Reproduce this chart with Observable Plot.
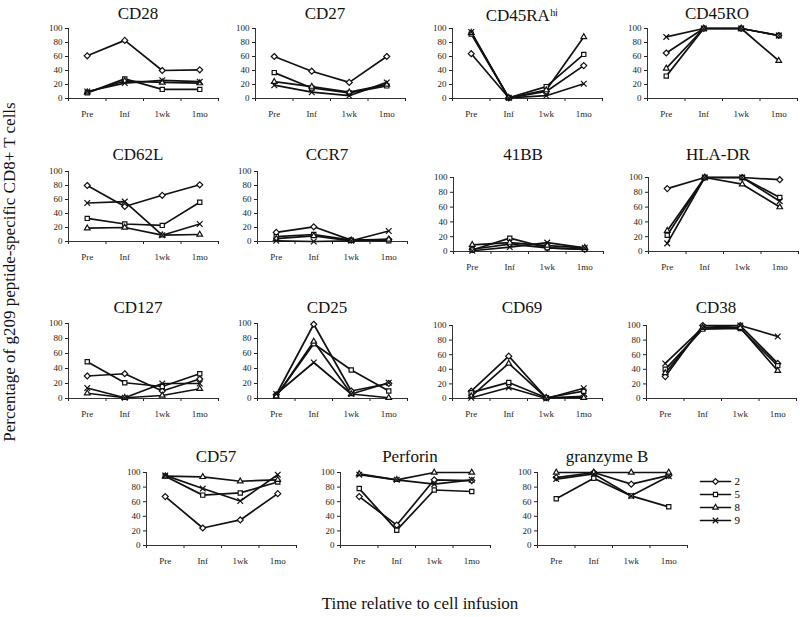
<!DOCTYPE html>
<html>
<head>
<meta charset="utf-8">
<script src="https://cdn.jsdelivr.net/npm/d3@7"></script>
<script src="https://cdn.jsdelivr.net/npm/@observablehq/plot@0.6"></script>
<style>
  html, body { margin: 0; padding: 0; background: #fff; }
  #root { position: relative; width: 800px; height: 617px; overflow: hidden; font-family: "Liberation Serif", serif; }
  .ttl { position: absolute; font-size: 17px; transform: translate(-50%, -50%); white-space: nowrap; color: #111; }
  .axt { position: absolute; font-size: 17px; white-space: nowrap; color: #111; transform: translate(-50%, -50%); }
</style>
</head>
<body>
<div id="root"></div>
<script>
// ---- data ----
const categories = ["Pre", "Inf", "1wk", "1mo"];
const patients = ["2", "5", "8", "9"];
const yTicks = [0, 20, 40, 60, 80, 100];

// each array: rows = patients 2, 5, 8, 9 ; columns = Pre, Inf, 1wk, 1mo
const CD28     = [[61, 83, 40, 41], [8, 28, 13, 13], [9, 25, 23, 22], [10, 22, 26, 24]];
const CD27     = [[60, 39, 23, 60], [37, 15, 8, 18], [24, 17, 9, 20], [19, 9, 4, 23]];
const CD45RAhi = [[64, 1, 10, 47], [92, 1, 17, 63], [94, 1, 12, 88], [95, 1, 4, 21]];
const CD45RO   = [[65, 100, 100, 90], [32, 100, 100, 90], [43, 100, 100, 54], [88, 100, 100, 90]];
const CD62L    = [[80, 50, 66, 81], [33, 25, 23, 56], [19, 20, 9, 10], [55, 57, 9, 25]];
const CCR7     = [[13, 21, 2, 3], [7, 10, 2, 1], [4, 8, 1, 3], [1, 0, 1, 15]];
const B41BB    = [[3, 10, 5, 3], [2, 18, 5, 3], [9, 12, 8, 5], [1, 6, 12, 5]];
const HLADR    = [[85, 100, 100, 97], [22, 100, 100, 73], [28, 100, 91, 60], [11, 100, 100, 68]];
const CD127    = [[30, 33, 10, 26], [49, 21, 16, 33], [7, 1, 4, 13], [14, 1, 20, 20]];
const CD25     = [[5, 99, 10, 20], [3, 73, 38, 10], [3, 76, 6, 1], [6, 48, 6, 21]];
const CD69     = [[10, 58, 1, 3], [8, 22, 1, 10], [3, 48, 1, 1], [1, 15, 0, 14]];
const CD38     = [[30, 100, 100, 48], [40, 95, 96, 45], [35, 97, 97, 38], [48, 97, 100, 85]];
const CD57     = [[67, 24, 35, 71], [95, 69, 72, 87], [95, 94, 88, 90], [96, 78, 61, 97]];
const Perforin = [[67, 28, 90, 89], [78, 21, 76, 74], [98, 90, 100, 100], [97, 90, 84, 90]];
const GranzymeB= [[93, 100, 84, 96], [64, 92, 68, 53], [100, 100, 100, 100], [91, 98, 68, 95]];

// ---- layout (positions only) ----
const panels = [
  {name: "CD28",      values: CD28,      ax: 68,  top: 28,  w: 150, h: 70, ty: 14},
  {name: "CD27",      values: CD27,      ax: 255, top: 28,  w: 150, h: 70, ty: 14},
  {name: "CD45RAʰⁱ",  values: CD45RAhi,  ax: 452, top: 28,  w: 150, h: 70, ty: 14},
  {name: "CD45RO",    values: CD45RO,    ax: 647, top: 28,  w: 150, h: 70, ty: 14},
  {name: "CD62L",     values: CD62L,     ax: 68,  top: 171, w: 150, h: 70, ty: 155},
  {name: "CCR7",      values: CCR7,      ax: 257, top: 171, w: 150, h: 70, ty: 155},
  {name: "41BB",      values: B41BB,     ax: 453, top: 177, w: 150, h: 74, ty: 155},
  {name: "HLA-DR",    values: HLADR,     ax: 648, top: 177, w: 150, h: 74, ty: 155},
  {name: "CD127",     values: CD127,     ax: 68,  top: 323, w: 150, h: 75, ty: 308},
  {name: "CD25",      values: CD25,      ax: 257, top: 323, w: 150, h: 75, ty: 308},
  {name: "CD69",      values: CD69,      ax: 452, top: 325, w: 150, h: 73, ty: 308},
  {name: "CD38",      values: CD38,      ax: 646, top: 325, w: 150, h: 73, ty: 308},
  {name: "CD57",      values: CD57,      ax: 146, top: 472, w: 150, h: 73, ty: 457},
  {name: "Perforin",  values: Perforin,  ax: 340, top: 472, w: 150, h: 73, ty: 457},
  {name: "granzyme B",values: GranzymeB, ax: 537, top: 472, w: 150, h: 73, ty: 457}
];

const root = document.getElementById("root");
const symbolRange = ["diamond2", "square2", "triangle2", "times"];

function drawPanel(cfg) {
  const rows = [];
  patients.forEach((p, si) => cfg.values[si].forEach((v, ci) => rows.push({patient: p, t: ci, v})));
  const mL = 34, mT = 6, mB = 26, mR = 6;
  const svg = Plot.plot({
    width: cfg.w + mL + mR,
    height: cfg.h + mT + mB,
    marginLeft: mL, marginRight: mR, marginTop: mT, marginBottom: mB,
    x: {domain: [-0.5, 3.5], axis: null},
    y: {domain: [0, 100], axis: null},
    symbol: {domain: patients, range: symbolRange},
    style: {fontFamily: "Liberation Serif, serif", fontSize: "9px", background: "transparent", overflow: "visible", color: "#222"},
    marks: [
      Plot.axisY({ticks: yTicks, tickSize: 3, tickPadding: 3, fontSize: 9, label: null}),
      Plot.axisX({ticks: [-0.5, 0.5, 1.5, 2.5, 3.5], tickSize: 3, tickFormat: () => "", label: null}),
      Plot.axisX({ticks: [0, 1, 2, 3], tickSize: 0, tickPadding: 12, tickFormat: i => categories[i], fontSize: 9, label: null}),
      Plot.ruleX([-0.5], {stroke: "#333", strokeWidth: 1}),
      Plot.ruleY([0], {stroke: "#333", strokeWidth: 1}),
      Plot.line(rows, {x: "t", y: "v", z: "patient", stroke: "#111", strokeWidth: 1.7}),
      Plot.dot(rows, {x: "t", y: "v", symbol: "patient", r: 2.7, fill: "white", stroke: "#111", strokeWidth: 1.2})
    ]
  });
  svg.style.position = "absolute";
  svg.style.left = (cfg.ax - mL) + "px";
  svg.style.top = (cfg.top - mT) + "px";
  root.appendChild(svg);
  const t = document.createElement("div");
  t.className = "ttl";
  t.textContent = cfg.name;
  t.style.left = (cfg.ax + 70) + "px";
  t.style.top = cfg.ty + "px";
  root.appendChild(t);
}
panels.forEach(drawPanel);

// legend
const legRows = [];
patients.forEach(p => [0, 1].forEach(x => legRows.push({patient: p, x})));
const leg = Plot.plot({
  width: 50, height: 69,
  marginLeft: 2, marginRight: 18, marginTop: 8, marginBottom: 8,
  x: {domain: [0, 1], axis: null},
  y: {type: "point", domain: patients, axis: null},
  symbol: {domain: patients, range: symbolRange},
  style: {fontFamily: "Liberation Serif, serif", fontSize: "11px", background: "transparent", overflow: "visible"},
  marks: [
    Plot.line(legRows, {x: "x", y: "patient", z: "patient", stroke: "#111", strokeWidth: 1.6}),
    Plot.dot(patients, {x: () => 0.5, y: d => d, symbol: d => d, r: 2.6, fill: "white", stroke: "#111", strokeWidth: 1.2}),
    Plot.text(patients, {x: () => 1, y: d => d, text: d => d, dx: 4, textAnchor: "start", fontSize: 11})
  ]
});
leg.style.position = "absolute";
leg.style.left = "698px";
leg.style.top = "466px";
root.appendChild(leg);

// axis titles
const yt = document.createElement("div");
yt.className = "axt";
yt.textContent = "Percentage of g209 peptide-specific CD8+ T cells";
yt.style.left = "10px"; yt.style.top = "272px";
yt.style.transform = "translate(-50%, -50%) rotate(-90deg)";
root.appendChild(yt);
const xt = document.createElement("div");
xt.className = "axt";
xt.textContent = "Time relative to cell infusion";
xt.style.left = "420px"; xt.style.top = "604px";
root.appendChild(xt);
</script>
</body>
</html>
